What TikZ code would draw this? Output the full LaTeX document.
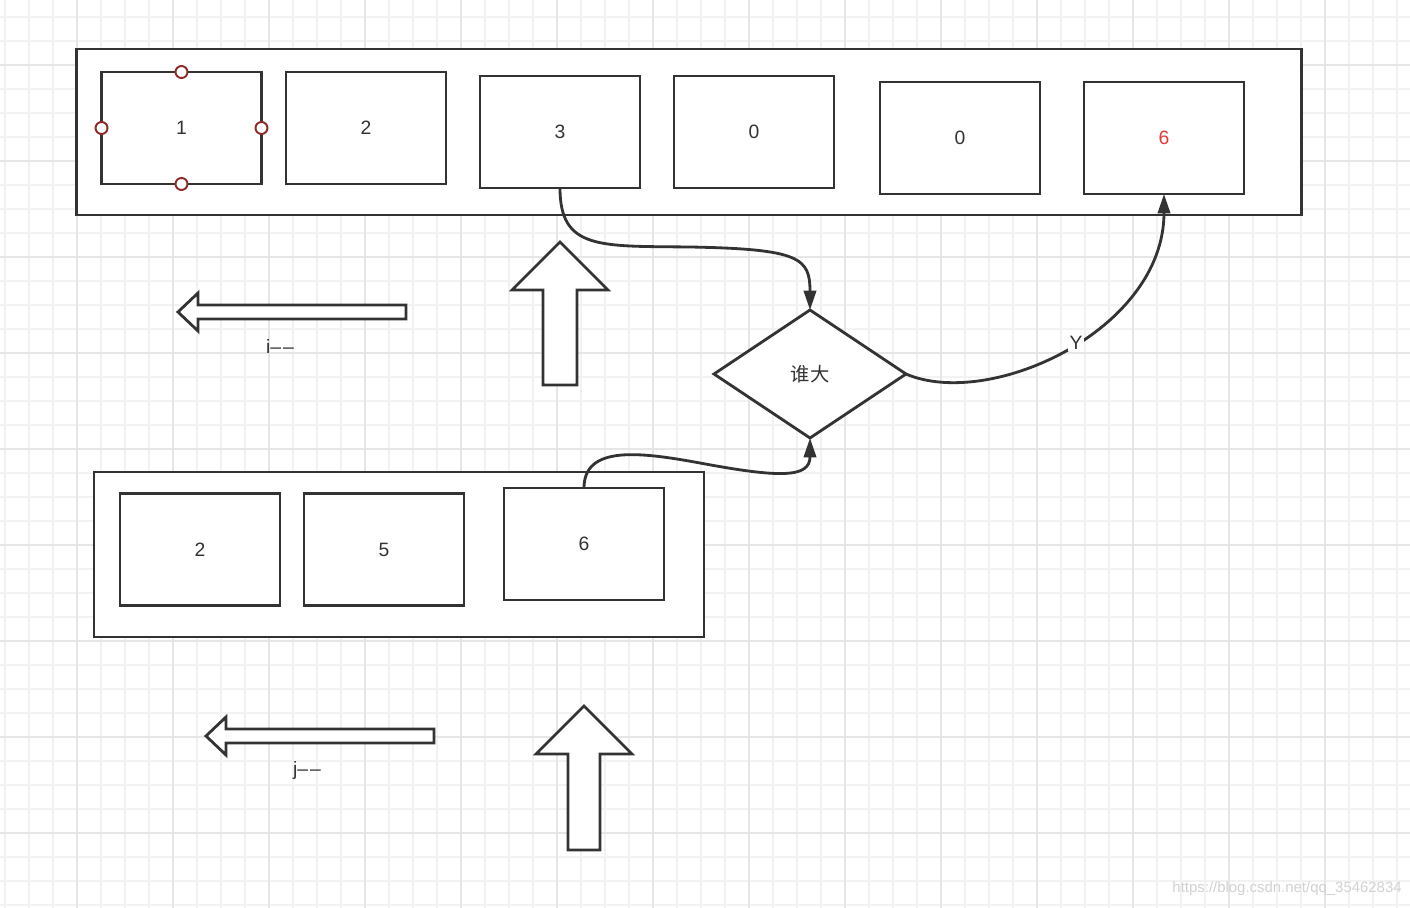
\documentclass[tikz,border=0pt]{standalone}
\usepackage{fontspec}
\setmainfont{Liberation Sans}
\newfontfamily\cjk{Noto Sans CJK SC}
\usetikzlibrary{shapes.geometric,arrows.meta}
\definecolor{ink}{HTML}{333333}
\definecolor{gridminor}{HTML}{F2F2F2}
\definecolor{gridmajor}{HTML}{E6E6E6}
\definecolor{handle}{HTML}{8B2A2A}
\definecolor{redtext}{HTML}{E53935}
\begin{document}
\begin{tikzpicture}[x=0.02cm,y=-0.02cm,
  cell/.style={draw=ink,line width=1.6pt,minimum width=3.2cm,minimum height=2.24cm,inner sep=0pt,outer sep=0pt,font=\fontsize{11}{13}\selectfont,text=ink},
  frame/.style={draw=ink,line width=1.6pt,inner sep=0pt,outer sep=0pt},
  decision/.style={diamond,draw=ink,fill=white,line width=1.6pt,minimum width=3.84cm,minimum height=2.56cm,inner sep=0pt,outer sep=0pt,font=\cjk\fontsize{11}{13}\selectfont,text=ink},
  handlept/.style={circle,draw=handle,fill=white,line width=1.1pt,minimum size=0.24cm,inner sep=0pt},
  blockarrow/.style={draw=ink,fill=white,line width=1.6pt,line join=miter},
  conn/.style={draw=ink,line width=1.6pt,-{Triangle[length=11pt,width=7pt]}},
  lbl/.style={font=\fontsize{11}{13}\selectfont,text=ink,inner sep=1pt}
]
\fill[white] (0,0) rectangle (1410,908);
\useasboundingbox (0,0) rectangle (1410,908);
% grid
\foreach \i in {0,...,58} {\draw[gridminor,line width=0.8pt] ({5+24*\i},0) -- ({5+24*\i},908);}
\foreach \i in {0,...,37} {\draw[gridminor,line width=0.8pt] (0,{17+24*\i}) -- (1410,{17+24*\i});}
\foreach \i in {0,...,13} {\draw[gridmajor,line width=0.8pt] ({77+96*\i},0) -- ({77+96*\i},908);}
\foreach \i in {0,...,8} {\draw[gridmajor,line width=0.8pt] (0,{65+96*\i}) -- (1410,{65+96*\i});}

% top array
\node[frame,fill=white,minimum width=24.52cm,minimum height=3.32cm] (top) at (689,132) {};
\node[cell] (b1) at (181.5,128) {1};
\node[cell] (b2) at (366,128) {2};
\node[cell] (b3) at (560,132) {3};
\node[cell] (b4) at (754,132) {0};
\node[cell] (b5) at (960,138) {0};
\node[cell,text=redtext] (b6) at (1164,138) {6};

% selection handles
\node[handlept] (h1) at (b1.north) {};
\node[handlept] (h2) at (b1.south) {};
\node[handlept] (h3) at (b1.west) {};
\node[handlept] (h4) at (b1.east) {};

% bottom array
\node[frame,fill=white,minimum width=12.2cm,minimum height=3.3cm] (bot) at (399,554.5) {};
\node[cell] (c1) at (200,549.5) {2};
\node[cell] (c2) at (384,549.5) {5};
\node[cell] (c3) at (584,544) {6};

% decision
\node[decision] (d) at (810,374) {谁大};

% block arrows
\draw[blockarrow] (178,312) -- (198,293) -- (198,305) -- (406,305) -- (406,319) -- (198,319) -- (198,331) -- cycle;
\node[lbl] (li) at (280,347) {i\textendash\kern1.2pt\textendash};
\draw[blockarrow] (560,242) -- (608,290) -- (577,290) -- (577,385) -- (543,385) -- (543,290) -- (512,290) -- cycle;
\draw[blockarrow] (206,736) -- (226,717) -- (226,729) -- (434,729) -- (434,743) -- (226,743) -- (226,755) -- cycle;
\node[lbl] (lj) at (307,771) {j\textendash\kern1.2pt\textendash};
\draw[blockarrow] (584,706) -- (632,754) -- (600,754) -- (600,850) -- (568,850) -- (568,754) -- (536,754) -- cycle;

% connectors
\draw[conn] (b3.south) .. controls (560,250) and (600,246) .. (690,247) .. controls (800,249) and (810,258) .. (d.north);
\draw[conn] (c3.north) .. controls (584,445) and (640,452) .. (700,463) .. controls (780,478) and (810,478) .. (d.south);
\draw[conn] (d.east) .. controls (990,410) and (1164,330) .. node[pos=0.53,fill=white,lbl] (ly) {Y} (b6.south);

% watermark
\node[font=\fontsize{8.5}{10}\selectfont,text=gray!35,anchor=east,inner sep=0pt] (wm) at (1402,889) {https://blog.csdn.net/qq\_35462834};
\end{tikzpicture}
\end{document}
